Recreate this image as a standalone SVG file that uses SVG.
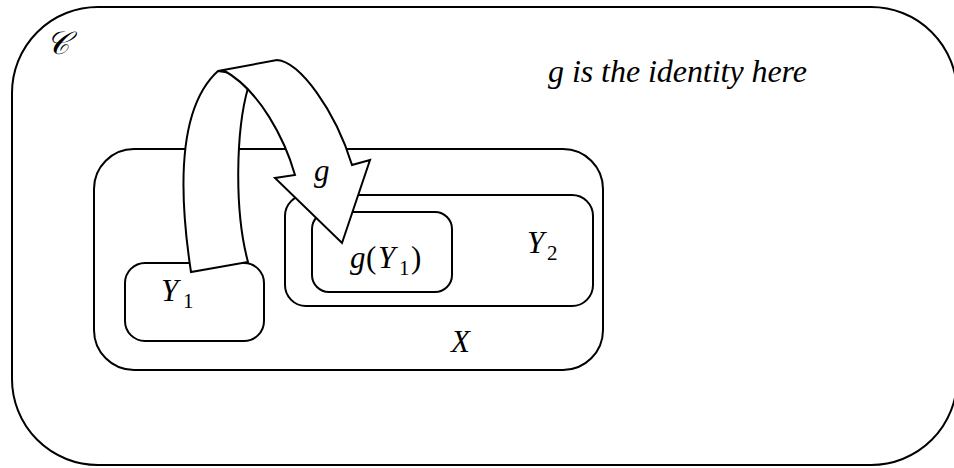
<svg xmlns="http://www.w3.org/2000/svg" width="954" height="468" viewBox="0 0 954 468">
  <style>
    .box { fill: none; stroke: #000; stroke-width: 2; }
    .ribbon { fill: #fff; stroke: #000; stroke-width: 2; stroke-linejoin: miter; }
    .lbl { font-family: "Liberation Serif", "Times New Roman", serif; font-style: italic; font-size: 31px; fill: #000; }
    .sub { font-style: normal; font-size: 21px; }
    .up { font-style: normal; }
  </style>
  <rect width="954" height="468" fill="#fff"/>

  <!-- category C -->
  <g id="category">
    <rect class="box" x="12" y="7" width="945" height="458" rx="86" ry="86"/>
    <text class="lbl" x="46" y="54" font-family="DejaVu Serif, Liberation Serif, serif" style="font-size:32px">𝒞</text>
    <text class="lbl" x="548" y="82" style="font-size:32px" textLength="259" lengthAdjust="spacing">g is the identity here</text>
  </g>

  <!-- set X -->
  <g id="set-x">
    <rect class="box" x="94" y="149" width="509" height="221" rx="40" ry="40"/>
    <text class="lbl" x="451" y="352">X</text>
  </g>

  <!-- Y1 -->
  <g id="y1">
    <rect class="box" x="125" y="263" width="139" height="78" rx="20" ry="20"/>
    <text class="lbl" x="161" y="301">Y<tspan class="sub" x="183" y="308">1</tspan></text>
  </g>

  <!-- Y2 -->
  <g id="y2">
    <rect class="box" x="285" y="195" width="308" height="111" rx="21" ry="21"/>
    <text class="lbl" x="527" y="253">Y<tspan class="sub" x="547" y="260">2</tspan></text>
  </g>

  <!-- g(Y1) -->
  <g id="g-y1">
    <rect class="box" x="312" y="212" width="140" height="80" rx="17" ry="17"/>
    <text class="lbl" x="350" y="268">g<tspan class="up" x="366">(</tspan><tspan x="378">Y</tspan><tspan class="sub" x="399" y="275">1</tspan><tspan class="up" x="411" y="268">)</tspan></text>
  </g>

  <!-- curved arrow g -->
  <g id="connectors">
    <!-- back half of the ribbon -->
    <path class="ribbon" d="M191,272 C180,200 175,110 218,71 L252,76 L248,88 C236,130 234,210 248,262 Z"/>
    <!-- front half with arrowhead -->
    <path class="ribbon" d="M218,71 L277,60 C300,62 335,110 352,165 L370,160 L342,243 L275,178 L295,175 C285,140 260,90 223,70 Z"/>
    <text class="lbl" x="314" y="181">g</text>
  </g>
</svg>
